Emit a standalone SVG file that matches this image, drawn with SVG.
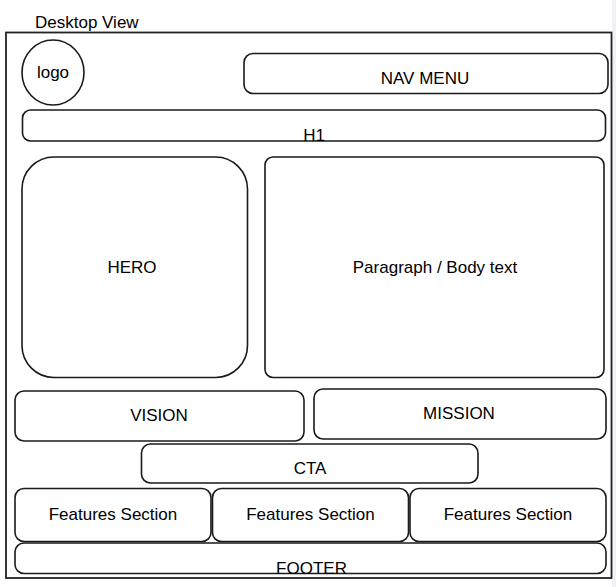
<svg xmlns="http://www.w3.org/2000/svg" width="616" height="587" viewBox="0 0 616 587">
<style>
.b{fill:#fff;stroke:#1a1a1a;stroke-width:1.6}
text{font-family:"Liberation Sans",Arial,sans-serif;font-size:17px;fill:#000;text-anchor:middle}
</style>
<rect x="0" y="0" width="616" height="587" fill="#fff"/>
<rect x="612" y="0" width="4" height="587" fill="#eef1f6"/>
<g id="frame">
<rect x="6" y="32.5" width="605.5" height="545.5" fill="#fff" stroke="#222" stroke-width="1.8"/>
<text x="35" y="28" style="text-anchor:start">Desktop View</text>
</g>
<g id="connectors"></g>
<g id="logo"><ellipse class="b" cx="53" cy="72.5" rx="31" ry="32.5"/><text x="53" y="78">logo</text></g>
<g id="nav"><rect class="b" x="244" y="53.5" width="364" height="40" rx="9"/><text x="425" y="84">NAV MENU</text></g>
<g id="h1"><rect class="b" x="22.5" y="110" width="583" height="31" rx="8"/><text x="314" y="141">H1</text></g>
<g id="hero"><rect class="b" x="22" y="157" width="225.5" height="220.5" rx="32"/><text x="132" y="273">HERO</text></g>
<g id="paragraph"><rect class="b" x="265" y="157" width="339" height="220.5" rx="8"/><text x="435" y="273">Paragraph / Body text</text></g>
<g id="vision"><rect class="b" x="15" y="391" width="289" height="50" rx="9"/><text x="159" y="421">VISION</text></g>
<g id="mission"><rect class="b" x="314" y="389" width="292" height="50" rx="9"/><text x="459" y="419">MISSION</text></g>
<g id="cta"><rect class="b" x="141.5" y="444" width="336.5" height="39" rx="9"/><text x="310" y="474">CTA</text></g>
<g id="features1"><rect class="b" x="15" y="488.5" width="196" height="53" rx="9"/><text x="113" y="520">Features Section</text></g>
<g id="features2"><rect class="b" x="212.5" y="488.5" width="196" height="53" rx="9"/><text x="310.5" y="520">Features Section</text></g>
<g id="features3"><rect class="b" x="410" y="488.5" width="196" height="53" rx="9"/><text x="508" y="520">Features Section</text></g>
<g id="footer"><rect class="b" x="15" y="543" width="591" height="30.5" rx="9"/><text x="311.5" y="573.5">FOOTER</text></g>
</svg>
